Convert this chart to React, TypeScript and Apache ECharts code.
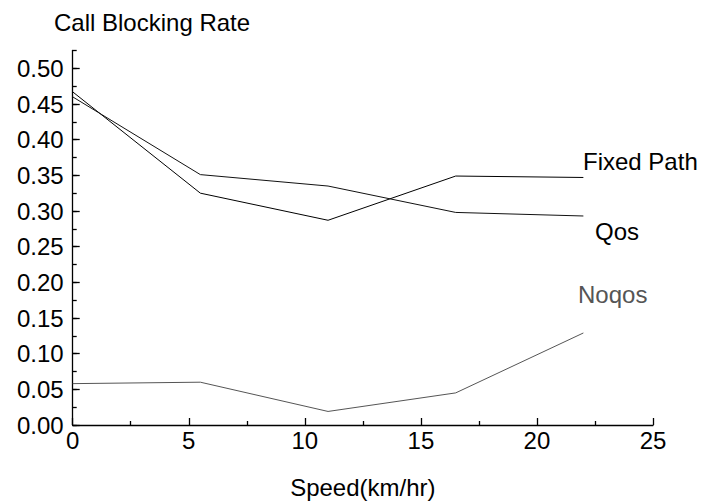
import React, { useEffect, useRef } from "react";
import * as echarts from "echarts";

const speeds = [0, 5.5, 11, 16.5, 22];
const fixedPath = [0.467, 0.325, 0.287, 0.349, 0.347];
const qos = [0.460, 0.351, 0.335, 0.298, 0.293];
const noqos = [0.058, 0.060, 0.019, 0.045, 0.129];
const yTicks = [0, 0.05, 0.1, 0.15, 0.2, 0.25, 0.3, 0.35, 0.4, 0.45, 0.5];
const seriesNames = ["Fixed Path", "Qos", "Noqos"];

const FONT = "'Liberation Sans', Arial, sans-serif";

export default function App() {
  const ref = useRef<HTMLDivElement>(null);
  useEffect(() => {
    if (!ref.current) return;
    const chart = echarts.init(ref.current, undefined, { renderer: "svg" });
    const pairs = (ys: number[]) => speeds.map((x, i) => [x, ys[i]]);
    chart.setOption({
      animation: false,
      backgroundColor: "#ffffff",
      textStyle: { fontFamily: FONT },
      title: {
        text: "Call Blocking Rate",
        left: 54,
        top: 10,
        padding: 0,
        textStyle: { fontFamily: FONT, fontSize: 24, fontWeight: "normal", color: "#000" },
      },
      grid: { left: 72.7, right: 51, top: 50.5, bottom: 78.3, containLabel: false },
      xAxis: {
        type: "value",
        min: 0,
        max: 25,
        interval: 5,
        name: "Speed(km/hr)",
        nameLocation: "middle",
        nameGap: 50,
        nameTextStyle: { fontFamily: FONT, fontSize: 24, color: "#000" },
        axisLine: { show: true, lineStyle: { color: "#000", width: 1.3 } },
        axisTick: { show: true, inside: true, length: 7, lineStyle: { color: "#000", width: 1.3 } },
        minorTick: { show: true, splitNumber: 2, length: 4, lineStyle: { color: "#000", width: 1.3 } },
        splitLine: { show: false },
        minorSplitLine: { show: false },
        axisLabel: { fontFamily: FONT, fontSize: 24, color: "#000", margin: 3 },
      },
      yAxis: [
        {
          type: "value",
          position: "left",
          min: 0,
          max: 0.525,
          interval: 0.05,
          axisLine: { show: true, lineStyle: { color: "#000", width: 1.3 } },
          axisTick: { show: true, inside: true, length: 7, customValues: yTicks, lineStyle: { color: "#000", width: 1.3 } },
          splitLine: { show: false },
          axisLabel: {
            customValues: yTicks,
            fontFamily: FONT,
            fontSize: 24,
            color: "#000",
            margin: 9,
            formatter: (v: number) => v.toFixed(2),
          },
        },
        {
          type: "value",
          position: "left",
          min: 0,
          max: 0.525,
          interval: 0.025,
          axisLine: { show: false },
          axisTick: { show: true, inside: true, length: 4, lineStyle: { color: "#000", width: 1.3 } },
          splitLine: { show: false },
          axisLabel: { show: false },
        },
      ],
      series: [
        {
          name: seriesNames[0],
          type: "line",
          data: pairs(fixedPath),
          symbol: "none",
          lineStyle: { color: "#000", width: 1 },
        },
        {
          name: seriesNames[1],
          type: "line",
          data: pairs(qos),
          symbol: "none",
          lineStyle: { color: "#111", width: 1 },
        },
        {
          name: seriesNames[2],
          type: "line",
          data: pairs(noqos),
          symbol: "none",
          lineStyle: { color: "#555", width: 1 },
        },
      ],
      graphic: [
        {
          type: "text",
          x: 583,
          y: 161,
          style: { text: seriesNames[0], font: `24px ${FONT}`, fill: "#000", verticalAlign: "middle", align: "left" },
        },
        {
          type: "text",
          x: 595,
          y: 231,
          style: { text: seriesNames[1], font: `24px ${FONT}`, fill: "#000", verticalAlign: "middle", align: "left" },
        },
        {
          type: "text",
          x: 578,
          y: 294.5,
          style: { text: seriesNames[2], font: `24px ${FONT}`, fill: "#555", verticalAlign: "middle", align: "left" },
        },
      ],
    });
    return () => chart.dispose();
  }, []);
  return (
    <div
      ref={ref}
      style={{ position: "absolute", left: 0, top: 0, width: 704, height: 504, background: "#fff" }}
    />
  );
}
